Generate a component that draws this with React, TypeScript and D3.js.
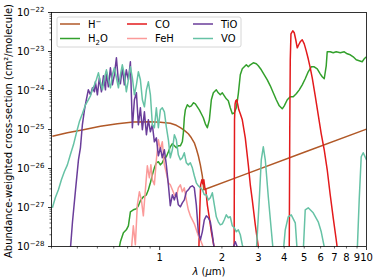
import React from "react";
import * as d3 from "d3";

// wavelengths in micron, abundance-weighted cross-sections in cm^2/molecule
const hminusWave = [0.303, 0.358, 0.428, 0.517, 0.625, 0.746, 0.902, 1.008, 1.126, 1.204, 1.259, 1.316, 1.376, 1.423, 1.471, 1.504, 1.538, 1.573, 1.608, 1.635, 2.454, 5.0, 10.0];
const hminusSigma = [6.7e-26, 8.23e-26, 9.83e-26, 1.21e-25, 1.4e-25, 1.55e-25, 1.57e-25, 1.53e-25, 1.44e-25, 1.28e-25, 1.11e-25, 9.53e-26, 7.76e-26, 6.12e-26, 4.56e-26, 3.2e-26, 2.12e-26, 1.24e-26, 6.5e-27, 2.84e-27, 6.38e-27, 2.6e-26, 1.02e-25];

const h2oWave = [0.632, 0.646, 0.668, 0.69, 0.706, 0.722, 0.746, 0.772, 0.789, 0.807, 0.834, 0.863, 0.882, 0.902, 0.922, 0.943, 0.964, 0.986, 1.008, 1.03, 1.054, 1.077, 1.102, 1.126, 1.152, 1.178, 1.204, 1.231, 1.259, 1.287, 1.302, 1.316, 1.331, 1.361, 1.392, 1.423, 1.455, 1.488, 1.521, 1.555, 1.59, 1.626, 1.663, 1.7, 1.739, 1.778, 1.818, 1.879, 1.921, 1.964, 2.009, 2.054, 2.1, 2.147, 2.195, 2.245, 2.296, 2.348, 2.4, 2.454, 2.509, 2.566, 2.624, 2.683, 2.743, 2.836, 2.932, 2.998, 3.1, 3.205, 3.314, 3.426, 3.542, 3.663, 3.787, 3.915, 4.003, 4.139, 4.28, 4.425, 4.575, 4.73, 4.89, 5.056, 5.227, 5.406, 5.588, 5.778, 5.974, 6.109, 6.247, 6.387, 6.458, 6.677, 6.904, 7.139, 7.466, 7.806, 8.07, 8.343, 8.625, 8.918, 9.22, 9.533, 9.748, 10.0];
const h2oSigma = [7.31e-29, 1.32e-28, 2.25e-28, 2.68e-28, 3.39e-28, 7.76e-28, 8.73e-28, 9.27e-28, 1.11e-27, 1.49e-27, 1.88e-27, 2.12e-27, 2.84e-27, 4.3e-27, 6.89e-27, 1.04e-26, 1.4e-26, 1.49e-26, 1.24e-26, 1.4e-26, 1.88e-26, 2.0e-26, 2.68e-26, 3.6e-26, 4.3e-26, 3.82e-26, 3.39e-26, 3.82e-26, 3.82e-26, 4.84e-26, 8.23e-26, 2.0e-25, 3.2e-25, 4.3e-25, 3.82e-25, 4.05e-25, 4.84e-25, 4.56e-25, 3.82e-25, 3.2e-25, 2.53e-25, 2.0e-25, 1.4e-25, 1.11e-25, 1.77e-25, 5.78e-25, 8.73e-25, 1.04e-24, 8.73e-25, 7.76e-25, 8.73e-25, 7.31e-25, 6.12e-25, 5.45e-25, 3.6e-25, 2.53e-25, 2.68e-25, 3.6e-25, 8.23e-25, 2.53e-24, 3.6e-24, 4.05e-24, 4.56e-24, 4.05e-24, 4.56e-24, 5.13e-24, 4.84e-24, 4.3e-24, 3.39e-24, 2.53e-24, 1.88e-24, 1.32e-24, 8.73e-25, 5.78e-25, 4.05e-25, 3.39e-25, 4.05e-25, 5.78e-25, 6.89e-25, 6.89e-25, 8.23e-25, 1.04e-24, 1.4e-24, 2.0e-24, 3.02e-24, 4.05e-24, 4.05e-24, 3.6e-24, 2.68e-24, 2.25e-24, 2.0e-24, 4.3e-24, 9.83e-24, 9.83e-24, 9.27e-24, 9.83e-24, 9.27e-24, 9.83e-24, 8.73e-24, 8.23e-24, 7.31e-24, 6.12e-24, 5.78e-24, 5.45e-24, 6.5e-24, 7.31e-24];

const coWave = [1.546, 1.564, 1.578, 1.599, 1.617, 1.635, 1.654, 1.672, 1.7, 1.739, 1.778, 1.818, 1.848, 2.291, 2.301, 2.316, 2.334, 2.36, 2.387, 2.414, 2.454, 2.509, 2.594, 2.683, 2.743, 2.804, 2.9, 2.998, 3.031, 4.232, 4.256, 4.28, 4.313, 4.4, 4.474, 4.55, 4.626, 4.703, 4.783, 4.89, 5.0, 5.112, 5.227, 5.346, 5.466, 5.651, 5.843, 6.042, 6.247, 6.458, 6.677, 6.904, 7.139, 7.26];
const coSigma = [7.31e-29, 8.73e-28, 3.82e-27, 5.13e-27, 4.05e-27, 5.13e-27, 3.2e-27, 2.84e-27, 1.17e-27, 5.45e-28, 2.38e-28, 1.24e-28, 7.31e-29, 7.31e-29, 1.77e-25, 4.56e-25, 5.45e-25, 5.78e-25, 4.3e-25, 3.2e-25, 2.53e-25, 1.77e-25, 6.12e-26, 1.24e-26, 3.82e-27, 1.57e-27, 3.6e-28, 9.83e-29, 7.31e-29, 7.31e-29, 9.83e-26, 6.12e-24, 2.84e-23, 3.4e-23, 3.02e-23, 2.0e-23, 1.24e-23, 1.49e-23, 1.77e-23, 2.0e-23, 1.57e-23, 1.04e-23, 6.5e-24, 3.82e-24, 2.12e-24, 7.31e-25, 2.38e-25, 7.76e-26, 3.02e-26, 9.27e-27, 2.12e-27, 5.45e-28, 1.49e-28, 7.31e-29];

const fehWave = [0.73, 0.746, 0.763, 0.78, 0.798, 0.816, 0.834, 0.853, 0.872, 0.892, 0.907, 0.922, 0.943, 0.964, 0.986, 1.008, 1.03, 1.054, 1.077, 1.102, 1.126, 1.152, 1.178, 1.204, 1.231, 1.259, 1.287, 1.316, 1.346, 1.376, 1.407, 1.439, 1.471, 1.504, 1.538, 1.573, 1.608, 1.644];
const fehSigma = [8.23e-29, 3.39e-28, 1.11e-28, 1.17e-27, 2.53e-27, 1.57e-27, 6.12e-28, 2.84e-27, 1.17e-26, 5.78e-27, 1.24e-26, 5.13e-27, 3.82e-27, 1.67e-26, 5.45e-26, 3.02e-26, 4.84e-26, 1.24e-26, 7.76e-27, 4.3e-27, 3.82e-27, 2.84e-27, 2.12e-27, 1.88e-27, 3.2e-27, 3.82e-27, 2.53e-27, 3.2e-27, 1.57e-27, 8.73e-28, 6.12e-28, 4.84e-28, 3.82e-28, 2.68e-28, 1.88e-28, 1.49e-28, 1.11e-28, 7.31e-29];

const tioWave = [0.37, 0.379, 0.392, 0.405, 0.414, 0.423, 0.433, 0.442, 0.452, 0.463, 0.473, 0.484, 0.489, 0.5, 0.511, 0.523, 0.535, 0.547, 0.553, 0.565, 0.578, 0.591, 0.604, 0.618, 0.632, 0.646, 0.66, 0.675, 0.69, 0.706, 0.722, 0.738, 0.755, 0.772, 0.789, 0.807, 0.825, 0.844, 0.863, 0.882, 0.902, 0.922, 0.943, 0.964, 0.986, 1.008, 1.03, 1.054, 1.077, 1.102, 1.126, 1.152, 1.178, 1.204, 1.231, 1.259, 1.287, 1.316, 1.346, 1.376, 1.407, 1.439, 1.471, 1.504, 1.538, 1.573, 1.608, 1.644, 1.681, 1.719, 1.758, 1.798, 1.838, 2.245, 2.322, 2.4];
const tioSigma = [8.23e-29, 4.3e-28, 2.84e-27, 1.67e-26, 3.39e-26, 1.32e-25, 3.2e-25, 5.78e-25, 1.04e-24, 7.76e-25, 1.17e-24, 9.27e-25, 1.67e-24, 7.76e-25, 2.12e-24, 9.27e-25, 2.38e-24, 1.04e-24, 3.02e-24, 1.24e-24, 3.82e-24, 1.4e-24, 2.53e-24, 6.89e-24, 1.67e-24, 1.49e-24, 3.82e-24, 1.4e-24, 3.39e-24, 1.88e-24, 5.45e-24, 1.11e-25, 5.78e-25, 8.73e-25, 1.32e-25, 3.6e-25, 9.83e-26, 2.84e-25, 7.31e-26, 1.77e-25, 8.73e-26, 1.32e-25, 4.84e-26, 6.12e-26, 2.12e-26, 3.39e-26, 1.88e-26, 3.02e-26, 1.24e-26, 3.82e-27, 1.11e-27, 2.12e-27, 1.57e-27, 2.38e-27, 1.17e-27, 1.04e-27, 1.32e-27, 1.57e-27, 2.53e-27, 2.84e-27, 3.39e-27, 3.6e-27, 3.2e-27, 1.17e-27, 2.38e-28, 1.49e-28, 2.38e-28, 4.84e-28, 6.12e-28, 5.45e-28, 4.3e-28, 2.0e-28, 8.23e-29, 8.23e-29, 1.32e-28, 8.23e-29];

const voWave = [0.303, 0.313, 0.324, 0.335, 0.346, 0.358, 0.37, 0.383, 0.396, 0.409, 0.423, 0.438, 0.452, 0.463, 0.473, 0.484, 0.494, 0.506, 0.517, 0.529, 0.541, 0.553, 0.565, 0.578, 0.591, 0.604, 0.618, 0.632, 0.646, 0.66, 0.675, 0.69, 0.706, 0.722, 0.738, 0.755, 0.772, 0.789, 0.807, 0.825, 0.844, 0.863, 0.882, 0.902, 0.922, 0.943, 0.964, 0.986, 1.008, 1.03, 1.054, 1.077, 1.102, 1.126, 1.152, 1.178, 1.204, 1.231, 1.259, 1.287, 1.316, 1.346, 1.376, 1.407, 1.439, 1.471, 1.504, 1.538, 1.573, 1.608, 1.644, 1.681, 1.719, 1.758, 1.798, 1.838, 1.879, 1.921, 1.964, 2.009, 2.054, 2.1, 2.147, 2.195, 2.245, 2.296, 2.348, 2.4, 2.454, 2.509, 2.566, 2.932, 3.031, 3.1, 3.17, 3.241, 3.351, 3.464, 3.542, 3.959, 4.048, 4.185, 4.327, 4.525, 4.626, 4.945, 5.056, 5.227, 5.526, 5.843, 6.042, 6.317, 9.017, 9.22, 9.428, 9.64, 10.0];
const voSigma = [9.83e-28, 1.77e-27, 2.84e-27, 5.13e-27, 8.23e-27, 1.24e-26, 2.25e-26, 4.05e-26, 8.23e-26, 1.57e-25, 2.53e-25, 4.3e-25, 5.78e-25, 7.31e-25, 1.04e-24, 1.4e-24, 1.88e-24, 2.84e-24, 1.67e-24, 1.04e-24, 2.12e-24, 3.39e-24, 1.88e-24, 1.17e-24, 2.53e-24, 3.82e-24, 2.12e-24, 1.17e-24, 2.53e-24, 4.56e-24, 2.53e-24, 9.27e-25, 1.88e-24, 4.05e-24, 2.12e-24, 7.76e-25, 1.4e-24, 3.02e-24, 1.88e-24, 5.78e-25, 3.82e-25, 1.04e-24, 1.67e-24, 7.76e-25, 1.32e-25, 1.11e-25, 3.6e-25, 1.11e-25, 3.2e-25, 3.6e-25, 2.84e-25, 1.17e-25, 5.45e-26, 1.88e-26, 3.02e-26, 7.31e-26, 5.45e-26, 2.25e-26, 1.67e-26, 1.88e-26, 2.53e-26, 1.4e-26, 1.24e-26, 1.4e-26, 1.04e-26, 6.5e-27, 4.3e-27, 3.6e-27, 3.2e-27, 2.84e-27, 2.12e-27, 2.12e-27, 1.57e-27, 1.77e-27, 2.38e-27, 1.17e-27, 5.78e-28, 4.3e-28, 3.6e-28, 3.82e-28, 4.84e-28, 6.5e-28, 5.45e-28, 5.78e-28, 3.39e-28, 3.02e-28, 2.38e-28, 2.68e-28, 2.0e-28, 1.11e-28, 7.31e-29, 7.31e-29, 1.57e-27, 1.67e-26, 3.6e-26, 1.67e-26, 1.88e-27, 2.68e-28, 7.31e-29, 7.31e-29, 2.68e-28, 5.78e-28, 6.5e-28, 4.05e-28, 7.31e-29, 7.31e-29, 8.73e-28, 9.83e-28, 7.31e-28, 4.3e-28, 2.38e-28, 7.31e-29, 7.31e-29, 1.57e-27, 2.0e-26, 2.53e-26, 1.67e-26];

const yMajor = [1e-28, 1e-27, 1e-26, 1e-25, 1e-24, 1e-23, 1e-22];
const xTickLabels = ["1", "2", "3", "4", "5", "6", "7", "8", "9", "10"];

const W = 374;
const H = 280;
const margin = { top: 12.5, right: 7.5, bottom: 33.5, left: 51.5 };

export default function App() {
  const x = d3.scaleLog().domain([0.3, 10]).range([margin.left, W - margin.right]);
  const y = d3.scaleLog().domain([1e-28, 1e-22]).range([H - margin.bottom, margin.top]);
  const x0 = margin.left, x1 = W - margin.right, y0 = H - margin.bottom, y1 = margin.top;

  const series = [
    { key: "hm", color: "#b15928", wave: hminusWave, sigma: hminusSigma },
    { key: "h2o", color: "#33a02c", wave: h2oWave, sigma: h2oSigma },
    { key: "co", color: "#e31a1c", wave: coWave, sigma: coSigma },
    { key: "feh", color: "#fb9a99", wave: fehWave, sigma: fehSigma },
    { key: "tio", color: "#6a3d9a", wave: tioWave, sigma: tioSigma },
    { key: "vo", color: "#66c2a5", wave: voWave, sigma: voSigma },
  ];

  const line = d3.line<[number, number]>().x(d => x(d[0])).y(d => y(d[1]));

  // minor ticks
  const yMinor: number[] = [];
  for (let e = -28; e < -22; e++) for (let k = 2; k <= 9; k++) yMinor.push(k * Math.pow(10, e));
  const xMinor = [0.3, 0.4, 0.5, 0.6, 0.7, 0.8, 0.9, 2, 3, 4, 5, 6, 7, 8, 9];
  const xMajor = [1, 10];

  const font = "DejaVu Sans, sans-serif";

  const legendItems = [
    { label: <tspan>H<tspan dy="-4" fontSize="7">−</tspan></tspan>, color: "#b15928", cx: 60, cy: 24 },
    { label: <tspan>H<tspan dy="3" fontSize="7">2</tspan><tspan dy="-3">O</tspan></tspan>, color: "#33a02c", cx: 60, cy: 38.5 },
    { label: "CO", color: "#e31a1c", cx: 127, cy: 24 },
    { label: "FeH", color: "#fb9a99", cx: 127, cy: 38.5 },
    { label: "TiO", color: "#6a3d9a", cx: 193, cy: 24 },
    { label: "VO", color: "#66c2a5", cx: 193, cy: 38.5 },
  ];

  return (
    <svg width={W} height={H} style={{ position: "fixed", left: 0, top: 0 }} fontFamily={font}>
      <rect width={W} height={H} fill="white" />
      <defs>
        <clipPath id="plot">
          <rect x={x0} y={y1} width={x1 - x0} height={y0 - y1} />
        </clipPath>
      </defs>
      <g clipPath="url(#plot)">
        {series.map(s => (
          <path key={s.key} d={line(s.wave.map((w, i) => [w, s.sigma[i]] as [number, number])) || ""}
            fill="none" stroke={s.color} strokeWidth={1.5} strokeLinejoin="round" />
        ))}
      </g>
      {/* spines */}
      <rect x={x0} y={y1} width={x1 - x0} height={y0 - y1} fill="none" stroke="#000" strokeWidth={0.8} />
      {/* y ticks */}
      {yMinor.map((v, i) => (
        <line key={"ym" + i} x1={x0} x2={x0 - 2} y1={y(v)} y2={y(v)} stroke="#000" strokeWidth={0.6} />
      ))}
      {yMajor.map(v => (
        <g key={"yM" + v}>
          <line x1={x0} x2={x0 - 3.5} y1={y(v)} y2={y(v)} stroke="#000" strokeWidth={0.8} />
          <text x={x0 - 7} y={y(v) + 3.8} textAnchor="end" fontSize={10}>
            10<tspan dy="-4.5" fontSize={7}>{"−" + Math.abs(Math.round(Math.log10(v)))}</tspan>
          </text>
        </g>
      ))}
      {/* x ticks */}
      {xMinor.map(v => (
        <line key={"xm" + v} x1={x(v)} x2={x(v)} y1={y0} y2={y0 + 2} stroke="#000" strokeWidth={0.6} />
      ))}
      {xMajor.map(v => (
        <line key={"xM" + v} x1={x(v)} x2={x(v)} y1={y0} y2={y0 + 3.5} stroke="#000" strokeWidth={0.8} />
      ))}
      {xTickLabels.map(t => (
        <text key={"xl" + t} x={x(+t)} y={y0 + 14} textAnchor="middle" fontSize={10}>{t}</text>
      ))}
      {/* axis labels */}
      <text x={(x0 + x1) / 2} y={H - 5} textAnchor="middle" fontSize={10}>
        <tspan fontStyle="italic">λ</tspan> (<tspan fontStyle="italic">μ</tspan>m)
      </text>
      <text transform={`translate(12,${(y0 + y1) / 2 + 1.5}) rotate(-90)`} textAnchor="middle" fontSize={10}>
        Abundance-weighted cross-section (cm²/molecule)
      </text>
      {/* legend */}
      <rect x={57} y={17} width={184} height={30} rx={2} fill="white" fillOpacity={0.8} stroke="#cccccc" strokeWidth={0.8} />
      {legendItems.map((it, i) => (
        <g key={"lg" + i}>
          <line x1={it.cx} x2={it.cx + 20} y1={it.cy} y2={it.cy} stroke={it.color} strokeWidth={1.5} />
          <text x={it.cx + 28} y={it.cy + 3.6} fontSize={10}>{it.label}</text>
        </g>
      ))}
    </svg>
  );
}
